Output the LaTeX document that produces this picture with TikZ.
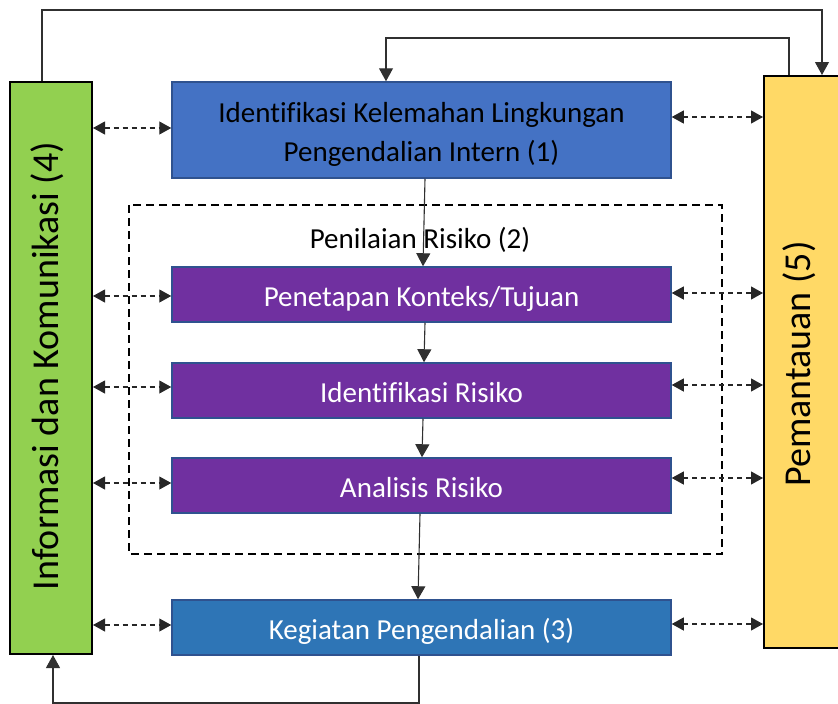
\documentclass[tikz,border=0pt]{standalone}
\usepackage{fontspec}
\setmainfont{Carlito}[Ligatures=NoCommon]
\usetikzlibrary{arrows.meta}
\definecolor{gfill}{HTML}{92D050}
\definecolor{yfill}{HTML}{FFD966}
\definecolor{bfill}{HTML}{4472C4}
\definecolor{bline}{HTML}{2F528F}
\definecolor{pfill}{HTML}{7030A0}
\definecolor{kfill}{HTML}{2E75B6}
\definecolor{cline}{HTML}{303030}
\tikzset{
  x=1pt,y=-1pt,
  sidebox/.style={draw=black,line width=2pt,minimum width=#1,minimum height=572pt,inner sep=0pt},
  mainbox/.style={draw=bline,line width=1.5pt,minimum width=499pt,minimum height=55pt,inner sep=0pt,font=\fontsize{29}{39}\selectfont,text height=26pt,text depth=3pt},
  sidetext/.style={rotate=90,font=\fontsize{38}{44}\selectfont},
  conn/.style={draw=cline,line width=1.1pt,-{Triangle[length=13pt,width=14pt]}},
  biarrow/.style={draw=black!85,line width=1.1pt,dash pattern=on 5pt off 4pt,{Triangle[length=12pt,width=13pt]}-{Triangle[length=12pt,width=13pt]}},
}
\begin{document}
\begin{tikzpicture}
\useasboundingbox (0,0) rectangle (838,704);
% side boxes
\node[sidebox=82pt,fill=gfill] (green) at (51,368) {};
\node[sidetext] (gtext) at (47,366) {Informasi dan Komunikasi (4)};
\node[sidebox=78pt,fill=yfill] (yellow) at (803,362) {};
\node[sidetext] (ytext) at (799,364) {Pemantauan (5)};
% dashed group
\draw[line width=2pt,dash pattern=on 8pt off 5pt] (129,205) rectangle (722,554);
\node[font=\fontsize{29}{35}\selectfont] (pr) at (420,240) {Penilaian Risiko (2)};
% main boxes
\node[draw=bline,line width=1.5pt,minimum width=499pt,minimum height=96pt,inner sep=0pt,fill=bfill,
  label={[align=center,font=\fontsize{29}{39}\selectfont,text=black,yshift=-4.5pt]center:Identifikasi Kelemahan Lingkungan\\Pengendalian Intern (1)}] (top) at (421.5,130) {};
\node[mainbox,fill=pfill,text=white] (p1) at (421.5,294.5) {Penetapan Konteks/Tujuan};
\node[mainbox,fill=pfill,text=white] (p2) at (421.5,390.5) {Identifikasi Risiko};
\node[mainbox,fill=pfill,text=white] (p3) at (421.5,485.5) {Analisis Risiko};
\node[mainbox,fill=kfill,text=white] (keg) at (421.5,627.5) {Kegiatan Pengendalian (3)};
% vertical arrows
\draw[conn] (top.south -| 425,0) -- (p1.north -| 423,0);
\draw[conn] (p1.south -| 425,0) -- (p2.north -| 424,0);
\draw[conn] (p2.south -| 423,0) -- (p3.north -| 422,0);
\draw[conn] (p3.south -| 420,0) -- (keg.north -| 418,0);
% loops
\draw[conn] (green.north -| 42,0) |- (822,10) -- (yellow.north -| 822,0);
\draw[conn] (yellow.north -| 789,0) |- (386,38) -- (top.north -| 386,0);
\draw[conn] (keg.south -| 419,0) |- (53,703) -- (green.south -| 53,0);
% left dashed
\draw[biarrow] (green.east |- 0,128) -- (top.west |- 0,128);
\draw[biarrow] (green.east |- 0,296) -- (p1.west |- 0,296);
\draw[biarrow] (green.east |- 0,387) -- (p2.west |- 0,387);
\draw[biarrow] (green.east |- 0,483) -- (p3.west |- 0,483);
\draw[biarrow] (green.east |- 0,625) -- (keg.west |- 0,625);
% right dashed
\draw[biarrow] (top.east |- 0,117) -- (yellow.west |- 0,117);
\draw[biarrow] (p1.east |- 0,293) -- (yellow.west |- 0,293);
\draw[biarrow] (p2.east |- 0,385) -- (yellow.west |- 0,385);
\draw[biarrow] (p3.east |- 0,478) -- (yellow.west |- 0,478);
\draw[biarrow] (keg.east |- 0,624) -- (yellow.west |- 0,624);
\end{tikzpicture}
\end{document}
